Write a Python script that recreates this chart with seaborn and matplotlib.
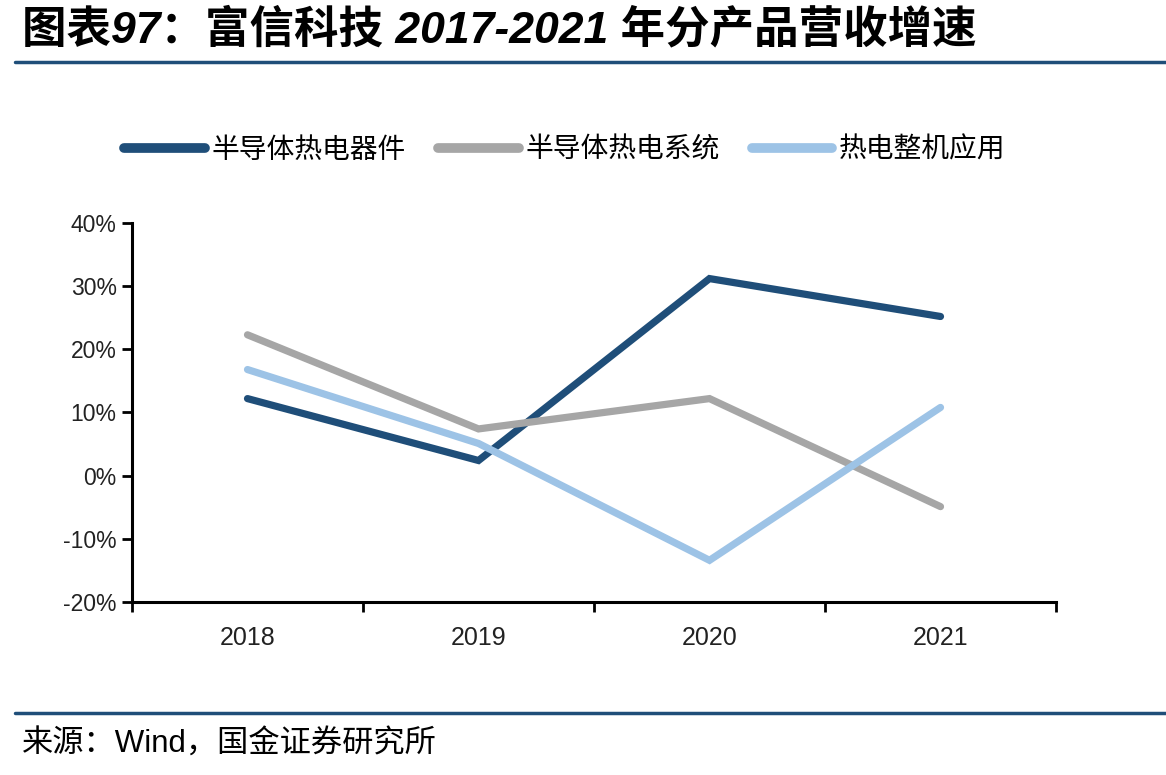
import pandas as pd
import seaborn as sns
import matplotlib.pyplot as plt
from matplotlib.ticker import FixedLocator, FuncFormatter

# === dados ===
years = ["2018", "2019", "2020", "2021"]
series_names = ["半导体热电器件", "半导体热电系统", "热电整机应用"]
device = [12.2, 2.4, 31.2, 25.2]
system = [22.3, 7.4, 12.2, -4.9]
machine = [16.8, 5.1, -13.4, 10.8]
colors = ["#1F4E79", "#A6A6A6", "#9DC3E6"]

title = "图表97：富信科技 2017-2021 年分产品营收增速"
source = "来源：Wind，国金证券研究所"

df = pd.DataFrame({
    "year": years * 3,
    "value": device + system + machine,
    "series": [series_names[0]] * 4 + [series_names[1]] * 4 + [series_names[2]] * 4,
})

# === plot ===
sns.set_theme(style="white")
plt.rcParams["font.family"] = ["Liberation Sans", "Noto Sans CJK SC", "DejaVu Sans"]
plt.rcParams["xtick.bottom"] = True
plt.rcParams["ytick.left"] = True

fig = plt.figure(figsize=(11.66, 7.75), dpi=100)
ax = fig.add_axes([132 / 1166, 1 - 602 / 775, (1056 - 132) / 1166, (602 - 223) / 775])

sns.lineplot(data=df, x="year", y="value", hue="series", hue_order=series_names,
             palette=colors, linewidth=5.2, ax=ax, sort=False)

ax.set_xlim(-0.5, 3.5)
ax.set_ylim(-20, 40)
ax.set_yticks(range(-20, 41, 10))
ax.yaxis.set_major_formatter(FuncFormatter(lambda v, p: f"{int(v)}%"))
ax.xaxis.set_minor_locator(FixedLocator([-0.5, 0.5, 1.5, 2.5, 3.5]))
ax.tick_params(axis="x", which="major", bottom=True, length=0, pad=17, labelsize=18,
               labelcolor="#222222")
ax.tick_params(axis="x", which="minor", bottom=True, length=7, width=2,
               direction="out", color="black")
ax.tick_params(axis="y", left=True, length=7, width=2, direction="out", pad=4,
               labelsize=16.5, labelcolor="#222222", color="black")
ax.set_xlabel("")
ax.set_ylabel("")
for s in ["top", "right"]:
    ax.spines[s].set_visible(False)
for s in ["left", "bottom"]:
    ax.spines[s].set_color("black")
    ax.spines[s].set_linewidth(2.2)

leg = ax.legend(loc="center", bbox_to_anchor=(565 / 1166, 1 - 150 / 775),
                bbox_transform=fig.transFigure, ncol=3, frameon=False,
                handlelength=2.9, handletextpad=0.25, columnspacing=1.15,
                prop={"family": ["Noto Sans CJK SC"], "size": 20})
for line in leg.get_lines():
    line.set_linewidth(7)
    line.set_solid_capstyle("round")
for text in leg.get_texts():
    text.set_color("black")
for line in ax.get_lines():
    line.set_solid_capstyle("round")
    line.set_solid_joinstyle("miter")

# título e régua
fig.text(22 / 1166, 1 - 30 / 775, title, ha="left", va="center", fontsize=32,
         fontweight="heavy", fontstyle="italic", color="black",
         family=["Liberation Sans", "Noto Sans CJK SC"])
fig.add_artist(plt.Line2D([15 / 1166, 1], [1 - 62 / 775] * 2, color="#1F4E79",
                          linewidth=2.5, transform=fig.transFigure))
fig.add_artist(plt.Line2D([15 / 1166, 1], [1 - 713 / 775] * 2, color="#1F4E79",
                          linewidth=2.5, transform=fig.transFigure))
fig.text(22 / 1166, 1 - 745 / 775, source, ha="left", va="center", fontsize=22.5,
         color="black", family=["Liberation Sans", "Noto Sans CJK SC"])

plt.savefig("out.png", dpi=100)
